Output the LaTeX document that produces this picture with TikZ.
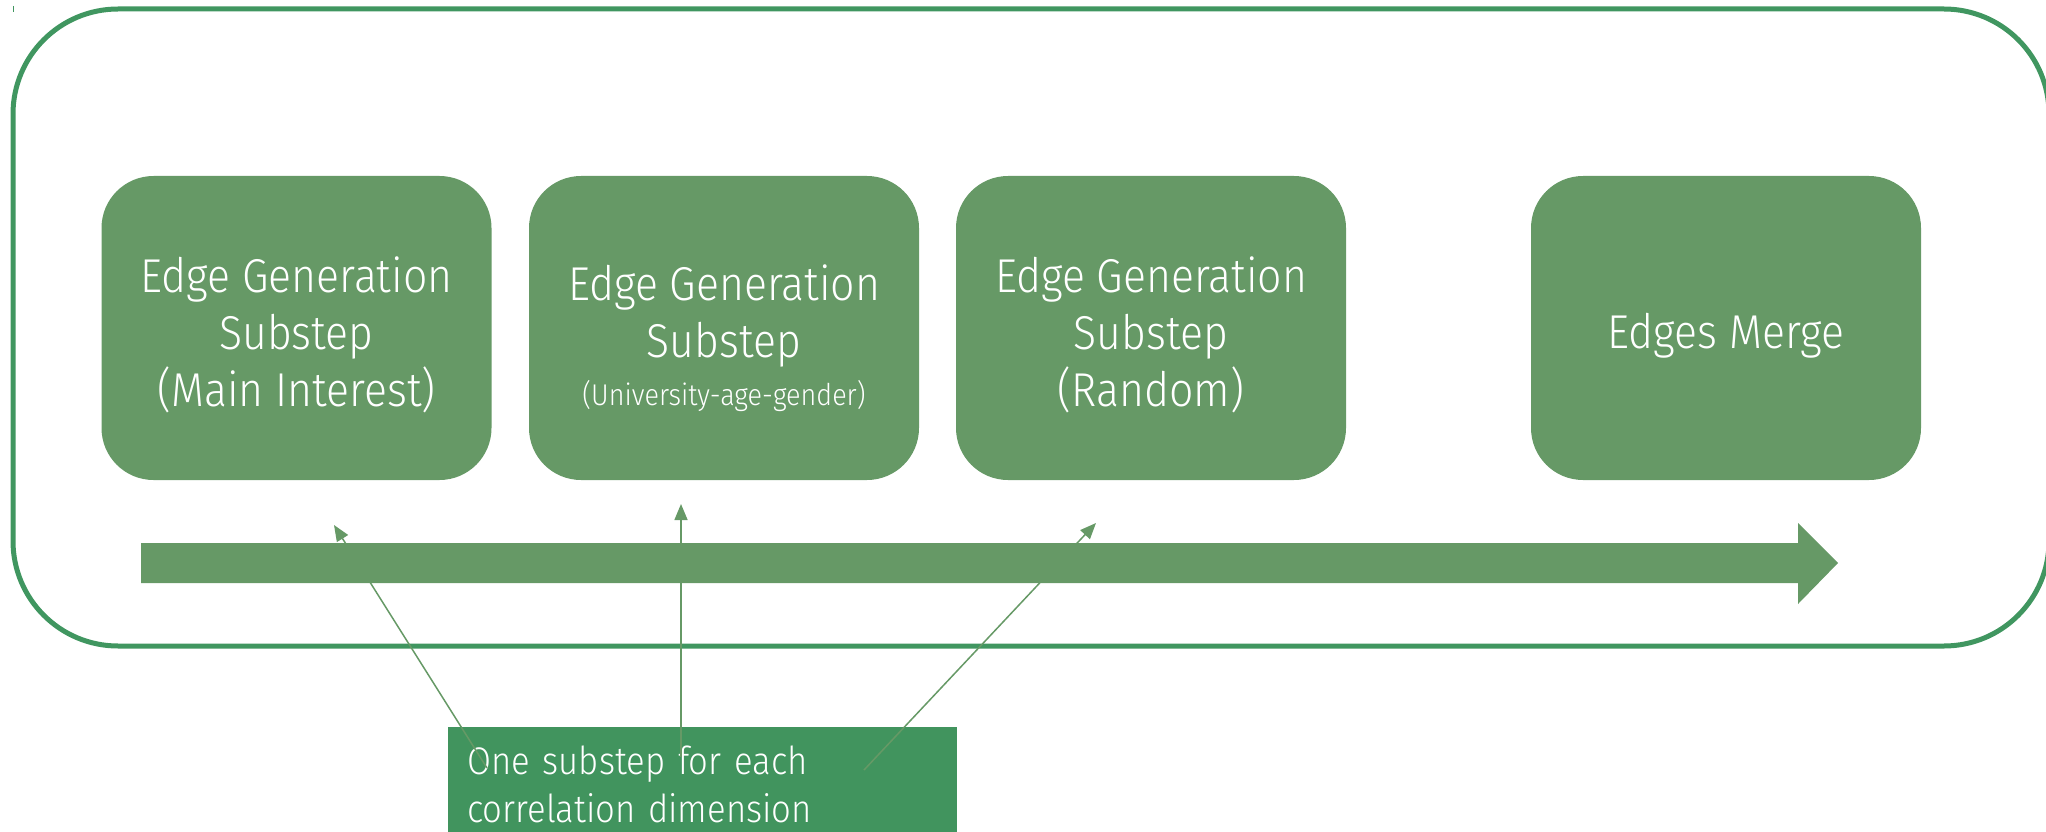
\documentclass[tikz,border=0pt]{standalone}
\usepackage{fontspec}
\setmainfont{Fira Sans}[UprightFont=* Light, FakeStretch=0.9]
\usetikzlibrary{arrows.meta}
\definecolor{boxgreen}{RGB}{102,153,102}
\definecolor{framegreen}{RGB}{64,150,96}
\definecolor{notegreen}{RGB}{65,148,94}
\begin{document}
\begin{tikzpicture}[x=1pt,y=-1pt,
  substep/.style={fill=boxgreen, rounded corners=52pt, minimum width=390pt,
    minimum height=304pt, inner sep=0pt},
  steptext/.style={text=white, align=center, inner sep=0pt,
    font=\fontsize{47.5}{57}\selectfont},
  notebox/.style={fill=notegreen, text=white, align=left, anchor=north west,
    text width=471pt, inner xsep=19pt, inner ysep=19pt,
    font=\fontsize{38.5}{48}\selectfont},
  pointer/.style={draw=boxgreen, line width=1.5pt,
    -{Triangle[length=16pt,width=13pt]}},
  frame/.style={draw=framegreen, line width=5pt, rounded corners=105pt}]
\useasboundingbox (0,0) rectangle (2046,832);

% outer process frame
\draw[frame] (13,9) rectangle (2049,646);
\draw[framegreen, line width=1pt] (13,6) -- (13,12);

% processing steps
\node[substep] (s1box) at (296.5,328) {};
\node[substep] (s2box) at (724,328) {};
\node[substep] (s3box) at (1151,328) {};
\node[substep] (merge) at (1726,328) {};
\node[steptext] (s1txt) at ([yshift=-7pt]s1box.center) {Edge Generation\\Substep\\(Main Interest)};
\node[steptext] (s2txt) at ([yshift=-10pt]s2box.center) {Edge Generation\\Substep\\[-9pt]{\fontsize{30}{38}\selectfont(University-age-gender)}};
\node[steptext] (s3txt) at ([yshift=-7pt]s3box.center) {Edge Generation\\Substep\\(Random)};
\node[steptext] (mergetxt) at ([yshift=-8pt]merge.center) {Edges Merge};

% timeline arrow
\fill[boxgreen] (141,543) -- (1798,543) -- (1798,523) -- (1838,563)
  -- (1798,604) -- (1798,583) -- (141,583) -- cycle;

% annotation
\node[notebox] (note) at (448,727) {One substep for each\\correlation dimension};

\coordinate (t1) at (334,525);
\coordinate (f1) at (487,768);
\coordinate (t2) at (681,504);
\coordinate (f2) at (681,757);
\coordinate (t3) at (1096,523);
\coordinate (f3) at (864,770);
\draw[pointer] (f1) -- (t1);
\draw[pointer] (f2) -- (t2);
\draw[pointer] (f3) -- (t3);
\end{tikzpicture}
\end{document}
